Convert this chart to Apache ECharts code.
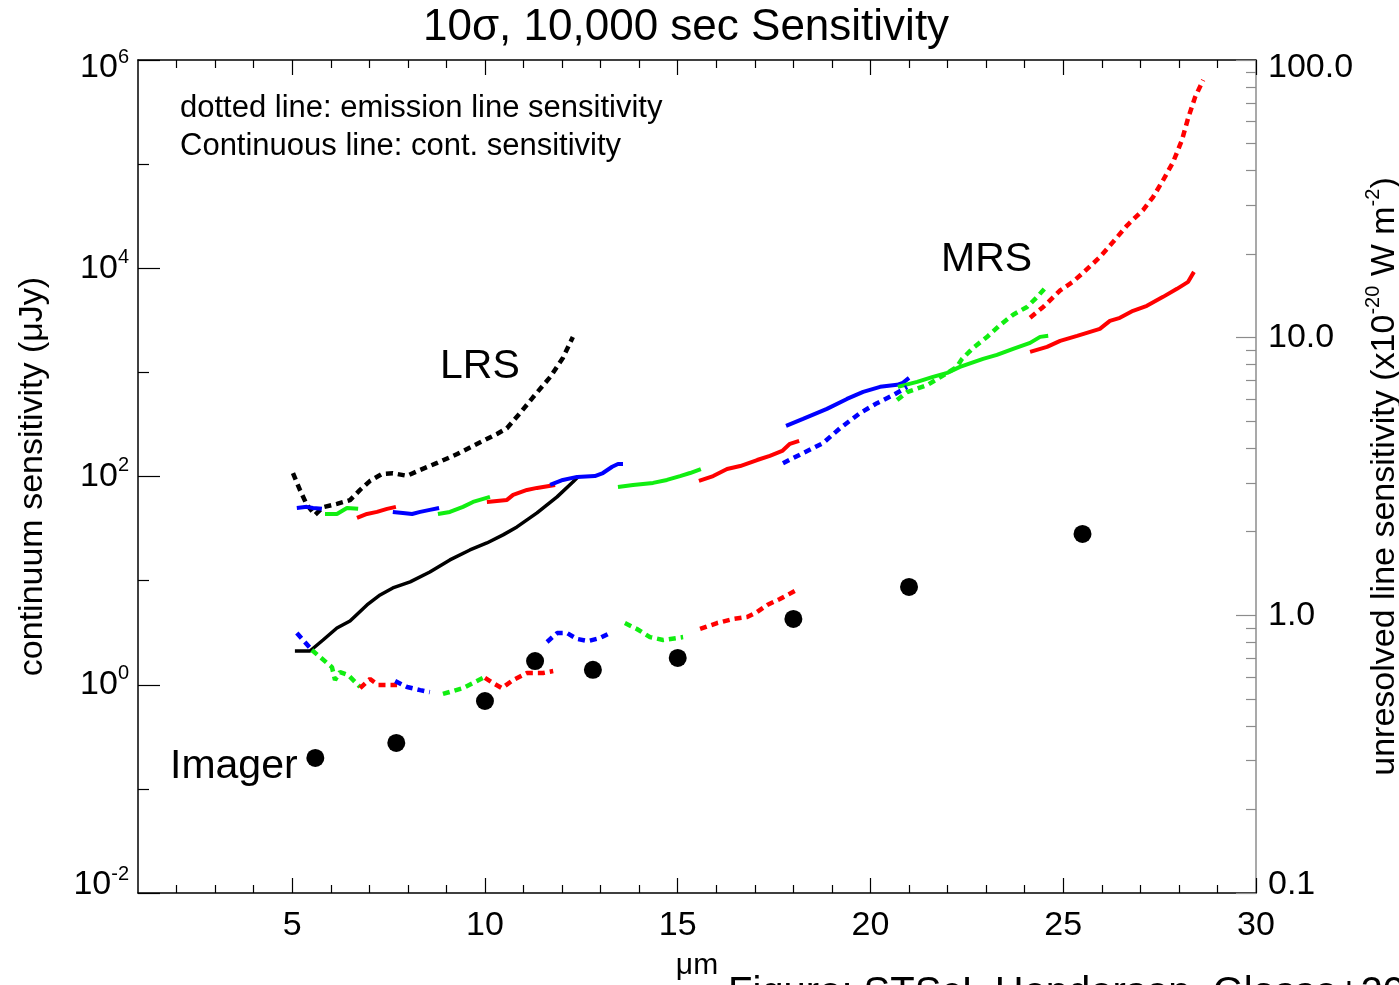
<!DOCTYPE html>
<html><head><meta charset="utf-8">
<script src="https://cdn.jsdelivr.net/npm/echarts@6/dist/echarts.min.js"></script>
<style>html,body{margin:0;padding:0;background:#fff}#c{width:1399px;height:985px}</style>
</head><body><div id="c"></div>
<script>
// ---- Data ----
// x ticks / labels
const xMajor = [5, 10, 15, 20, 25, 30];
const xMinor = [2, 3, 4, 6, 7, 8, 9, 11, 12, 13, 14, 16, 17, 18, 19, 21, 22, 23, 24, 26, 27, 28, 29];
const yLeftLabeled = [0.01, 1, 100, 1e4, 1e6];
const yLeftOdd = [0.1, 10, 1000, 1e5];
const yRightMajor = [0.1, 1, 10, 100];
const yRightMinor = [0.2,0.3,0.4,0.5,0.6,0.7,0.8,0.9,2,3,4,5,6,7,8,9,20,30,40,50,60,70,80,90];

// LRS continuum sensitivity (uJy)
const lrsCont = [[5.07,2.11],[5.46,2.11],[5.80,2.69],[6.16,3.51],[6.50,4.10],[6.94,5.84],[7.28,7.29],[7.61,8.51],[8.06,9.72],[8.57,12.1],[9.09,15.8],[9.61,19.7],[10.05,23.0],[10.47,27.5],[10.83,32.8],[11.35,44.7],[11.87,63.7],[12.28,88.7],[12.41,99.1]];
// LRS line sensitivity (1e-20 W m^-2)
const lrsLine = [[5.02,3.25],[5.20,2.83],[5.38,2.50],[5.59,2.30],[5.80,2.45],[6.16,2.52],[6.50,2.60],[6.76,2.83],[7.02,3.05],[7.33,3.23],[7.61,3.25],[7.98,3.18],[8.32,3.34],[8.76,3.54],[9.28,3.81],[9.79,4.14],[10.31,4.50],[10.57,4.72],[10.91,5.35],[11.25,6.11],[11.69,7.21],[12.02,8.45],[12.28,10.05]];

// MRS continuum sensitivity per sub-band (uJy)
const mrsCont1 = [[5.12,49.9],[5.38,51.1],[5.54,49.9],[5.77,48.9]];
const mrsCont2 = [[5.85,43.7],[6.16,43.7],[6.42,49.9],[6.71,48.9]];
const mrsCont3 = [[6.68,40.0],[6.94,43.7],[7.20,45.7],[7.46,48.9],[7.69,51.1]];
const mrsCont4 = [[7.61,45.7],[7.87,44.7],[8.11,43.7],[8.32,45.7],[8.57,47.8],[8.81,49.9]];
const mrsCont5 = [[8.78,43.7],[9.09,45.7],[9.43,51.1],[9.69,57.0],[10.13,63.7]];
const mrsCont6 = [[10.05,57.0],[10.57,59.6],[10.73,66.6],[11.09,74.3],[11.35,77.7],[11.82,83.0]];
const mrsCont7 = [[11.69,83.0],[12.02,92.7],[12.39,99.1],[12.85,101],[13.06,108],[13.30,124],[13.45,132],[13.58,132]];
const mrsCont8 = [[13.45,79.4],[13.84,83.0],[14.36,86.8],[14.72,92.7],[15.06,101],[15.32,108],[15.60,118]];
const mrsCont9 = [[15.55,90.7],[15.92,101],[16.28,118],[16.62,126],[17.06,144],[17.39,158],[17.71,176],[17.91,206],[18.15,220]];
const mrsCont10 = [[17.81,306],[18.25,357],[18.87,446],[19.39,556],[19.81,650],[20.25,726],[20.69,759],[20.84,793],[21.00,885]];
const mrsCont11 = [[20.71,726],[21.21,811],[21.62,906],[21.99,989],[22.32,1130],[22.92,1349],[23.28,1473],[23.70,1683],[24.14,1920],[24.40,2193],[24.61,2243]];
const mrsCont12 = [[24.14,1574],[24.58,1758],[24.92,2009],[25.36,2243],[25.95,2618],[26.21,3126],[26.47,3342],[26.81,3902],[27.17,4357],[27.59,5311],[27.95,6343],[28.24,7401],[28.39,9230]];

// MRS line sensitivity per sub-band (1e-20 W m^-2)
const mrsLine1 = [[5.12,0.863],[5.51,0.750]];
const mrsLine2 = [[5.51,0.750],[5.72,0.708],[6.03,0.651],[6.11,0.585],[6.24,0.625],[6.45,0.610],[6.76,0.552]];
const mrsLine3 = [[6.76,0.547],[7.02,0.590],[7.23,0.561],[7.72,0.561]];
const mrsLine4 = [[7.67,0.580],[7.98,0.552],[8.32,0.538],[8.57,0.529]];
const mrsLine5 = [[8.91,0.521],[9.43,0.547],[9.69,0.570],[10.00,0.600]];
const mrsLine6 = [[10.00,0.595],[10.21,0.570],[10.44,0.547],[10.73,0.585],[11.09,0.620],[11.51,0.620],[11.77,0.630]];
const mrsLine7 = [[11.61,0.802],[11.87,0.863],[12.13,0.863],[12.39,0.822],[12.67,0.808],[12.98,0.828],[13.24,0.863]];
const mrsLine8 = [[13.63,0.938],[13.94,0.893],[14.28,0.835],[14.62,0.815],[15.14,0.835]];
const mrsLine9 = [[15.58,0.893],[16.02,0.938],[16.43,0.970],[16.80,0.986],[17.06,1.028],[17.32,1.089],[17.65,1.145],[18.04,1.224]];
const mrsLine10 = [[17.73,3.53],[18.25,3.84],[18.77,4.17],[19.21,4.72],[19.73,5.35],[20.17,5.81],[20.59,6.21],[20.95,6.64]];
const mrsLine11 = [[20.69,5.96],[20.95,6.37],[21.47,6.75],[21.99,7.46],[22.24,7.84],[22.37,8.37],[22.66,9.18],[23.02,10.05],[23.36,11.1],[23.70,12.1],[24.06,12.9],[24.32,14.0],[24.53,15.1]];
const mrsLine12 = [[24.14,11.8],[24.48,12.9],[24.92,14.8],[25.25,15.9],[25.51,17.1],[25.95,19.5],[26.29,22.1],[26.66,25.4],[27.07,28.8],[27.33,32.1],[27.59,36.9],[27.85,42.9],[28.08,51.5],[28.24,61.8],[28.42,73.5],[28.63,84.7]];

// Imager broadband sensitivity (uJy)
const imagerWave = [5.6, 7.7, 10.0, 11.3, 12.8, 15.0, 18.0, 21.0, 25.5];
const imagerSens = [0.198, 0.276, 0.698, 1.69, 1.39, 1.81, 4.29, 8.70, 28.1];

// ---- Styling ----
const FONT = '"Liberation Sans", Arial, Helvetica, sans-serif';
const BLUE = '#0000ff', GREEN = '#11ee11', RED = '#ff0000';
const bandColors = [BLUE, GREEN, RED];
const mrsContSegs = [mrsCont1,mrsCont2,mrsCont3,mrsCont4,mrsCont5,mrsCont6,mrsCont7,mrsCont8,mrsCont9,mrsCont10,mrsCont11,mrsCont12];
const mrsLineSegs = [mrsLine1,mrsLine2,mrsLine3,mrsLine4,mrsLine5,mrsLine6,mrsLine7,mrsLine8,mrsLine9,mrsLine10,mrsLine11,mrsLine12];
const DASH = [7, 5];

const series = [];
series.push({type:'line', name:'LRS cont', data: lrsCont, xAxisIndex:0, yAxisIndex:0, showSymbol:false, lineStyle:{color:'#000', width:3.5}, z:3});
series.push({type:'line', name:'LRS line', data: lrsLine, xAxisIndex:0, yAxisIndex:2, showSymbol:false, lineStyle:{color:'#000', width:4.5, type:DASH}, z:3});
mrsContSegs.forEach((d,i)=>series.push({type:'line', data:d, xAxisIndex:0, yAxisIndex:0, showSymbol:false, lineStyle:{color:bandColors[i%3], width:4}, z:4}));
mrsLineSegs.forEach((d,i)=>series.push({type:'line', data:d, xAxisIndex:0, yAxisIndex:2, showSymbol:false, lineStyle:{color:bandColors[i%3], width:4.5, type:DASH}, z:4}));
series.push({type:'scatter', name:'Imager', data: imagerWave.map((w,i)=>[w, imagerSens[i]]), xAxisIndex:0, yAxisIndex:0, symbolSize:18, itemStyle:{color:'#000', opacity:1}, z:5});

const baseX = {type:'value', min:1, max:30, splitLine:{show:false}, gridIndex:0};
const tickStyle = {color:'#000', width:1.2};

const supRich = {
  b:{fontSize:34, lineHeight:42, fontFamily:FONT, color:'#000'},
  s:{fontSize:20, lineHeight:20, verticalAlign:'top', fontFamily:FONT, color:'#000'},
  r:{fontSize:34, lineHeight:38, fontFamily:FONT, color:'#000'},
  g:{fontSize:1, lineHeight:16}
};
const T = (size) => ({fontSize:size, fontWeight:'normal', color:'#000', fontFamily:FONT});

const option = {
  animation:false,
  backgroundColor:'#fff',
  title:[
    {text:'10σ, 10,000 sec Sensitivity', left:423, top:6, padding:0, textStyle:T(44)},
    {text:'dotted line: emission line sensitivity', left:180, top:93, padding:0, textStyle:T(31)},
    {text:'Continuous line: cont. sensitivity', left:180, top:131, padding:0, textStyle:T(31)},
    {text:'LRS', left:440, top:346, padding:0, textStyle:T(41)},
    {text:'MRS', left:941, top:239, padding:0, textStyle:T(41)},
    {text:'Imager', left:170, top:746, padding:0, textStyle:T(41)},
    {text:'Figure: STScI, Henderson, Glasse+2015', left:728, top:974, padding:0, textStyle:T(40)}
  ],
  grid:{left:138, right:143, top:60, bottom:92, containLabel:false, outerBoundsMode:'none'},
  xAxis:[
    Object.assign({}, baseX, {position:'bottom', name:'μm', nameLocation:'middle', nameGap:58,
      nameTextStyle:{fontSize:30, color:'#000', fontFamily:FONT},
      axisLine:{show:true, lineStyle:{color:'#000', width:1.5}},
      axisTick:{show:true, inside:true, length:15, customValues:xMajor, lineStyle:tickStyle},
      axisLabel:{show:true, customValues:xMajor, margin:16, fontSize:34, color:'#000', fontFamily:FONT}}),
    Object.assign({}, baseX, {position:'bottom',
      axisLine:{show:false}, axisLabel:{show:false},
      axisTick:{show:true, inside:true, length:8, customValues:xMinor, lineStyle:tickStyle}}),
    Object.assign({}, baseX, {position:'top',
      axisLine:{show:true, lineStyle:{color:'#000', width:1.5}}, axisLabel:{show:false},
      axisTick:{show:true, inside:true, length:15, customValues:xMajor, lineStyle:tickStyle}}),
    Object.assign({}, baseX, {position:'top',
      axisLine:{show:false}, axisLabel:{show:false},
      axisTick:{show:true, inside:true, length:8, customValues:xMinor, lineStyle:tickStyle}})
  ],
  yAxis:[
    {type:'log', logBase:10, min:0.01, max:1e6, position:'left', splitLine:{show:false},
      name:'continuum sensitivity (μJy)', nameLocation:'middle', nameRotate:90, nameGap:88,
      nameTextStyle:{fontSize:34, color:'#000', fontFamily:FONT},
      axisLine:{show:true, lineStyle:{color:'#000', width:1.5}},
      axisTick:{show:true, inside:true, length:22, customValues:yLeftLabeled, lineStyle:tickStyle},
      axisLabel:{show:true, customValues:yLeftLabeled, margin:9, align:'right', rich:supRich,
        formatter:function(v){
          const e = Math.round(Math.log10(v));
          const t = '{b|10}{s|' + e + '}';
          if (e === 6) return '{g| }\n' + t;
          if (e === -2) return t + '\n{g| }';
          return t;
        }}},
    {type:'log', logBase:10, min:0.01, max:1e6, position:'left', splitLine:{show:false},
      axisLine:{show:false}, axisLabel:{show:false},
      axisTick:{show:true, inside:true, length:11, customValues:yLeftOdd, lineStyle:tickStyle}},
    {type:'log', logBase:10, min:0.1, max:100, position:'right', splitLine:{show:false},
      name:'{a|unresolved line sensitivity (x10}{s|-20}{a| W m}{s|-2}{a|)}', nameLocation:'middle', nameRotate:90, nameGap:86,
      nameTextStyle:{color:'#000', fontFamily:FONT, rich:{
        a:{fontSize:34, lineHeight:42, fontFamily:FONT, color:'#000'},
        s:{fontSize:20, lineHeight:20, verticalAlign:'top', fontFamily:FONT, color:'#000'}}},
      axisLine:{show:true, lineStyle:{color:'#8c8c8c', width:1.5}},
      axisTick:{show:true, inside:true, length:20, customValues:yRightMajor, lineStyle:{color:'#8c8c8c', width:1.2}},
      axisLabel:{show:true, customValues:yRightMajor, margin:12, align:'left', rich:supRich,
        formatter:function(v){
          const t = '{r|' + v.toFixed(1) + '}';
          if (v >= 99) return '{g| }\n' + t;
          if (v <= 0.11) return t + '\n{g| }';
          return t;
        }}},
    {type:'log', logBase:10, min:0.1, max:100, position:'right', splitLine:{show:false},
      axisLine:{show:false}, axisLabel:{show:false},
      axisTick:{show:true, inside:true, length:10, customValues:yRightMinor, lineStyle:{color:'#8c8c8c', width:1.2}}}
  ],
  series: series
};
const chart = echarts.init(document.getElementById('c'), null, {renderer:'canvas'});
chart.setOption(option);
</script></body></html>
